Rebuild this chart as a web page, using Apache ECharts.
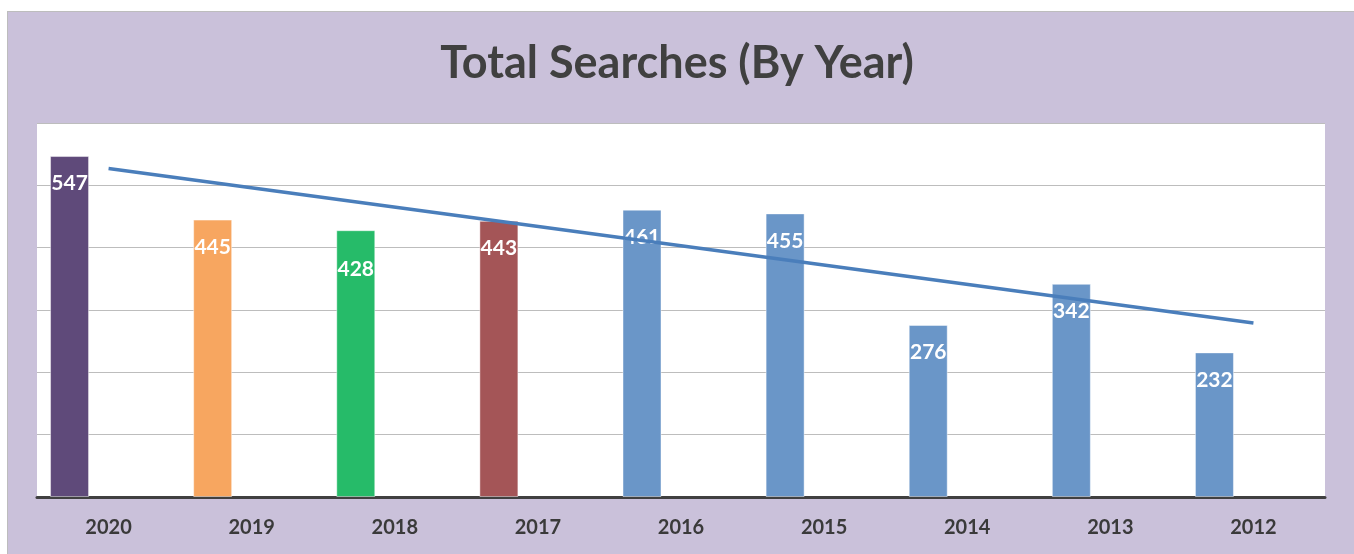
<!DOCTYPE html>
<html>
<head>
<meta charset="utf-8">
<script src="https://cdn.jsdelivr.net/npm/echarts@6/dist/echarts.min.js"></script>
<style>
html,body{margin:0;padding:0;background:#fff;width:1354px;height:554px;overflow:hidden;}
#frame{position:absolute;left:7px;top:11px;width:1360px;height:560px;background:#CAC1DA;border:1px solid #BDBDBD;box-sizing:border-box;}
#chart{position:absolute;left:0;top:0;width:1354px;height:554px;}
</style>
</head>
<body>
<div id="frame"></div>
<div id="chart"></div>
<script>
const titleText = 'Total Searches (By Year)';
const years = ['2020','2019','2018','2017','2016','2015','2014','2013','2012'];
const searches = [547, 445, 428, 443, 461, 455, 276, 342, 232];
const barColors = ['#5F4A7A','#F7A660','#26BB69','#A45557','#6A96C8','#6A96C8','#6A96C8','#6A96C8','#6A96C8'];
// linear trend line, endpoints
const trend = [527, null, null, null, null, null, null, null, 279];
const yTicks = [0, 100, 200, 300, 400, 500, 600];

const chart = echarts.init(document.getElementById('chart'), null, {renderer:'canvas'});
chart.setOption({
  backgroundColor: 'transparent',
  animation: false,
  title: {
    text: titleText,
    left: 'center',
    top: 36,
    textStyle: {fontFamily: 'Lato', fontWeight: 'bold', fontSize: 45, color: '#404040'}
  },
  grid: {
    left: 37, right: 29, top: 123, bottom: 57,
    show: true, backgroundColor: '#FFFFFF', borderWidth: 0
  },
  xAxis: {
    type: 'category',
    data: years,
    axisLine: {show: true, lineStyle: {color: '#404040', width: 3}},
    axisTick: {show: false},
    axisLabel: {fontFamily: 'Lato', fontWeight: 'bold', fontSize: 20, color: '#3A3A3A', margin: 21}
  },
  yAxis: {
    type: 'value',
    min: yTicks[0], max: yTicks[yTicks.length - 1], interval: yTicks[1] - yTicks[0],
    axisLine: {show: false},
    axisTick: {show: false},
    axisLabel: {show: false},
    splitLine: {lineStyle: {color: '#BDBDBD', width: 1}}
  },
  series: [
    {
      type: 'bar',
      barWidth: 39,
      barGap: '0%',
      data: searches.map((v, i) => {
        const item = {value: v, itemStyle: {color: barColors[i]}};
        if (years[i] === '2018') item.label = {offset: [0, 12]};
        return item;
      }),
      itemStyle: {borderColor: 'rgba(255,255,255,0.45)', borderWidth: 1},
      label: {
        show: true, position: 'insideTop', distance: 17,
        fontFamily: 'Lato', fontWeight: 'bold', fontSize: 21, color: '#FFFFFF'
      },
      z: 2
    },
    {type: 'bar', barWidth: 39, barGap: '0%', data: []},
    {type: 'bar', barWidth: 39, barGap: '0%', data: []},
    {
      type: 'line',
      data: trend,
      connectNulls: true,
      symbol: 'none',
      lineStyle: {color: '#4A7EBB', width: 3.5},
      z: 5
    }
  ]
});
</script>
</body>
</html>
